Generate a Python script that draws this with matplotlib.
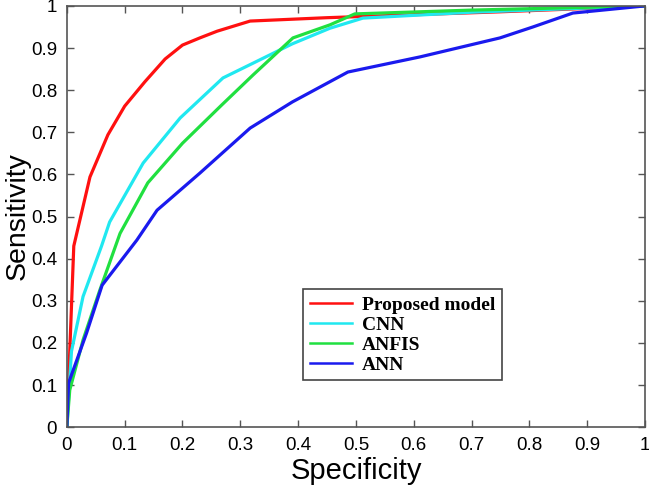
import matplotlib
matplotlib.use("Agg")
import matplotlib.pyplot as plt

prop_x = [0, 0.012, 0.04, 0.071, 0.10, 0.135, 0.17, 0.20, 0.23, 0.26, 0.317, 0.45, 0.6, 0.75, 0.9, 1.0]
prop_y = [0, 0.43, 0.594, 0.694, 0.762, 0.82, 0.874, 0.907, 0.924, 0.94, 0.964, 0.972, 0.979, 0.986, 0.994, 1.0]

cnn_x = [0, 0.008, 0.028, 0.06, 0.074, 0.132, 0.196, 0.27, 0.322, 0.39, 0.455, 0.512, 0.7, 1.0]
cnn_y = [0, 0.18, 0.31, 0.43, 0.487, 0.627, 0.734, 0.829, 0.864, 0.91, 0.947, 0.971, 0.985, 1.0]

anfis_x = [0, 0.005, 0.028, 0.057, 0.092, 0.14, 0.2, 0.268, 0.322, 0.391, 0.455, 0.498, 0.7, 1.0]
anfis_y = [0, 0.088, 0.207, 0.325, 0.46, 0.58, 0.674, 0.765, 0.836, 0.924, 0.955, 0.981, 0.99, 1.0]

ann_x = [0, 0.003, 0.034, 0.061, 0.121, 0.156, 0.23, 0.317, 0.39, 0.486, 0.611, 0.749, 0.806, 0.875, 1.0]
ann_y = [0, 0.105, 0.223, 0.337, 0.444, 0.515, 0.603, 0.71, 0.772, 0.843, 0.879, 0.924, 0.95, 0.983, 1.0]

labels = ["Proposed model", "CNN", "ANFIS", "ANN"]
colors = ["#ff1010", "#20e8f0", "#20e040", "#1a1aee"]

fig = plt.figure(figsize=(6.49, 4.91), dpi=100)
ax = fig.add_axes([0.103, 0.130, 0.891, 0.858])
series = [(prop_x, prop_y), (cnn_x, cnn_y), (anfis_x, anfis_y), (ann_x, ann_y)]
for (xs, ys), lab, c in zip(series, labels, colors):
    ax.plot(xs, ys, color=c, lw=2.3, label=lab)

ax.set_xlim(0, 1)
ax.set_ylim(0, 1)
ticks = [i / 10 for i in range(11)]
tick_labels = ["0", "0.1", "0.2", "0.3", "0.4", "0.5", "0.6", "0.7", "0.8", "0.9", "1"]
ax.set_xticks(ticks)
ax.set_xticklabels(tick_labels)
ax.set_yticks(ticks)
ax.set_yticklabels(tick_labels)
ax.tick_params(direction="in", top=True, right=True, length=5, width=1, color="#555555",
               labelsize=13.5, pad=7)
for lab in ax.get_xticklabels() + ax.get_yticklabels():
    lab.set_family("Liberation Sans")
for s in ax.spines.values():
    s.set_color("#555555")
    s.set_linewidth(1.2)

ax.set_xlabel("Specificity", fontsize=21, family="Liberation Sans", labelpad=2)
ax.set_ylabel("Sensitivity", fontsize=20.5, family="Liberation Sans", labelpad=0)

leg = ax.legend(loc="upper left", bbox_to_anchor=(0.408, 0.327), fancybox=False,
                edgecolor="#444444", framealpha=1, handlelength=2.2, borderpad=0.35,
                labelspacing=0.12, handletextpad=0.5, borderaxespad=0,
                prop={"family": "Liberation Serif", "weight": "bold", "size": 14})
leg.get_frame().set_linewidth(1.2)
for h in leg.get_lines():
    h.set_linewidth(1.8)

fig.savefig("out.png", dpi=100)
